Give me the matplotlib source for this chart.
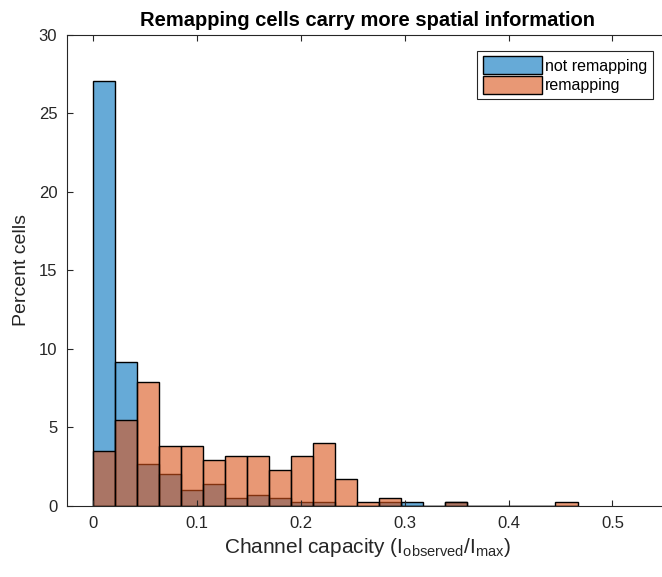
import numpy as np
import matplotlib
matplotlib.use('Agg')
import matplotlib.pyplot as plt

plt.rcParams['font.family'] = ['Liberation Sans', 'DejaVu Sans']
plt.rcParams['mathtext.fontset'] = 'custom'
plt.rcParams['mathtext.rm'] = 'Liberation Sans'
plt.rcParams['mathtext.it'] = 'Liberation Sans'

# histogram bins (channel capacity), width
bin_width = 0.0212
n_bins = 22
bin_left = np.arange(n_bins) * bin_width

# percent of cells per bin
not_remapping = [27.06, 9.14, 2.65, 2.03, 1.04, 1.42, 0.51, 0.70, 0.53, 0.28, 0.28,
                 0, 0, 0.28, 0.25, 0, 0.26, 0, 0, 0, 0, 0]
remapping = [3.52, 5.50, 7.91, 3.79, 3.79, 2.90, 3.17, 3.17, 2.28, 3.17, 4.04,
             1.74, 0.25, 0.53, 0, 0, 0.26, 0, 0, 0, 0, 0.26]

blue = (0, 0.447, 0.741, 0.6)
orange = (0.85, 0.325, 0.098, 0.6)
axcol = '#262626'

fig = plt.figure(figsize=(6.62, 5.77), dpi=100)
ax = fig.add_axes([67 / 662, 0.123, 601 / 662, 0.8168])

ax.bar(bin_left, not_remapping, width=bin_width, align='edge', color=blue,
       edgecolor='black', linewidth=1.0, label='not remapping')
ax.bar(bin_left, remapping, width=bin_width, align='edge', color=orange,
       edgecolor='black', linewidth=1.0, label='remapping')

ax.set_xlim(-0.025, 0.5535)
ax.set_ylim(0, 30)
ax.set_xticks([0, 0.1, 0.2, 0.3, 0.4, 0.5])
ax.set_xticklabels(['0', '0.1', '0.2', '0.3', '0.4', '0.5'])
ax.set_yticks([0, 5, 10, 15, 20, 25, 30])

for s in ax.spines.values():
    s.set_color(axcol)
    s.set_linewidth(0.8)
ax.tick_params(direction='in', length=4, width=0.8, colors=axcol, labelsize=12,
               top=True, right=True, pad=7)
for lab in ax.get_xticklabels() + ax.get_yticklabels():
    lab.set_color(axcol)

ax.set_title('Remapping cells carry more spatial information', fontsize=14.5,
             fontweight='bold', color='black', pad=6)
ax.set_ylabel('Percent cells', fontsize=14, color=axcol, labelpad=6)
ax.set_xlabel(r'Channel capacity (I$_{\mathrm{observed}}$/I$_{\mathrm{max}}$)',
              fontsize=15, color=axcol, labelpad=4)

leg = ax.legend(loc='upper right', bbox_to_anchor=(652.7 / 662, 1 - 50.7 / 577),
                bbox_transform=fig.transFigure, borderaxespad=0,
                fontsize=11.5, fancybox=False, framealpha=1,
                edgecolor=axcol, handlelength=3.7, handleheight=1.35,
                handletextpad=0.2, borderpad=0.35, labelspacing=0.1)
leg.get_frame().set_linewidth(0.8)

plt.savefig('out.png', dpi=100)
